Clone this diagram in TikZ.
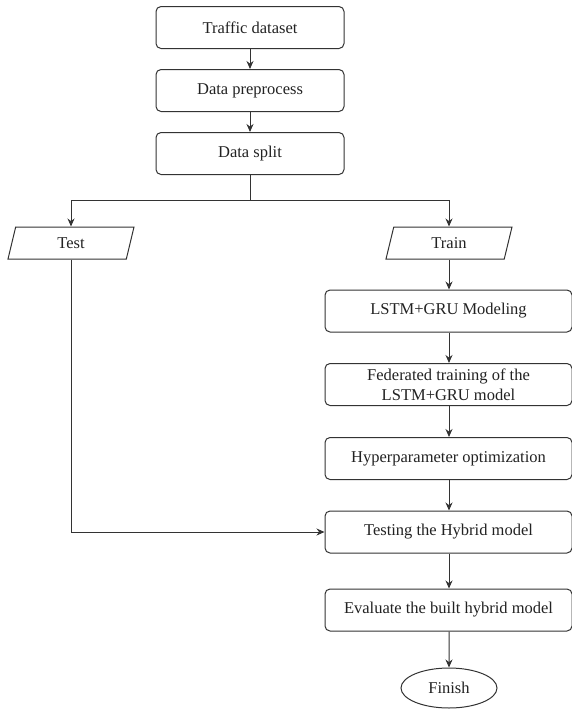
\documentclass[tikz,border=0pt]{standalone}
\usepackage{fontspec}
\setmainfont{Liberation Serif}
\usetikzlibrary{shapes.geometric,arrows.meta}
\definecolor{lc}{HTML}{333333}
\definecolor{tc}{HTML}{222222}
\begin{document}
\begin{tikzpicture}[x=1pt,y=-1pt,
  every node/.style={font=\fontsize{16.5}{20}\selectfont, text=tc},
  box/.style={draw=lc, line width=1pt, rounded corners=5pt, minimum height=42pt, inner sep=0pt, align=center},
  topbox/.style={box, minimum width=188pt},
  rbox/.style={box, minimum width=247pt},
  io/.style={draw=lc, line width=1pt, trapezium, trapezium left angle=55, trapezium right angle=125,
     trapezium stretches body, minimum height=32pt, minimum width=126pt, inner sep=0pt},
  endnode/.style={draw=lc, line width=1pt, ellipse, minimum width=96pt, minimum height=40pt, inner sep=0pt},
  arr/.style={draw=lc, line width=1pt, -{Stealth[length=8pt,width=7pt]}},
  ln/.style={draw=lc, line width=1pt}]
\useasboundingbox (0,0) rectangle (572,710);
\node[topbox] (traffic) at (250,27.5) {Traffic dataset};
\node[topbox] (prep) at (250,90.5) {Data preprocess};
\node[topbox] (split) at (250,153.5) {Data split};
\node[io] (test) at (71,243) {Test};
\node[io] (train) at (449,243) {Train};
\node[rbox] (lstm) at (448.5,311) {LSTM+GRU Modeling};
\node[rbox] (fed) at (448.5,384.5) {Federated training of the\\LSTM+GRU model};
\node[rbox] (hyper) at (448.5,458.5) {Hyperparameter optimization};
\node[rbox] (testing) at (448.5,532) {Testing the Hybrid model};
\node[rbox] (eval) at (448.5,610) {Evaluate the built hybrid model};
\node[endnode] (finish) at (449,688) {Finish};
\coordinate (junc) at (250,200.5);
\draw[arr] (traffic) -- (prep);
\draw[arr] (prep) -- (split);
\draw[ln] (split.south) -- (junc);
\draw[arr] (junc) -| (test.north);
\draw[arr] (junc) -| (train.north);
\draw[arr] (train.south) -- (train.south |- lstm.north);
\draw[arr] (lstm.south -| train.south) -- (fed.north -| train.south);
\draw[arr] (fed.south -| train.south) -- (hyper.north -| train.south);
\draw[arr] (hyper.south -| train.south) -- (testing.north -| train.south);
\draw[arr] (testing.south -| train.south) -- (eval.north -| train.south);
\draw[arr] (eval.south -| train.south) -- (finish.north);
\draw[arr] (test.south) |- (testing.west);
\end{tikzpicture}
\end{document}
